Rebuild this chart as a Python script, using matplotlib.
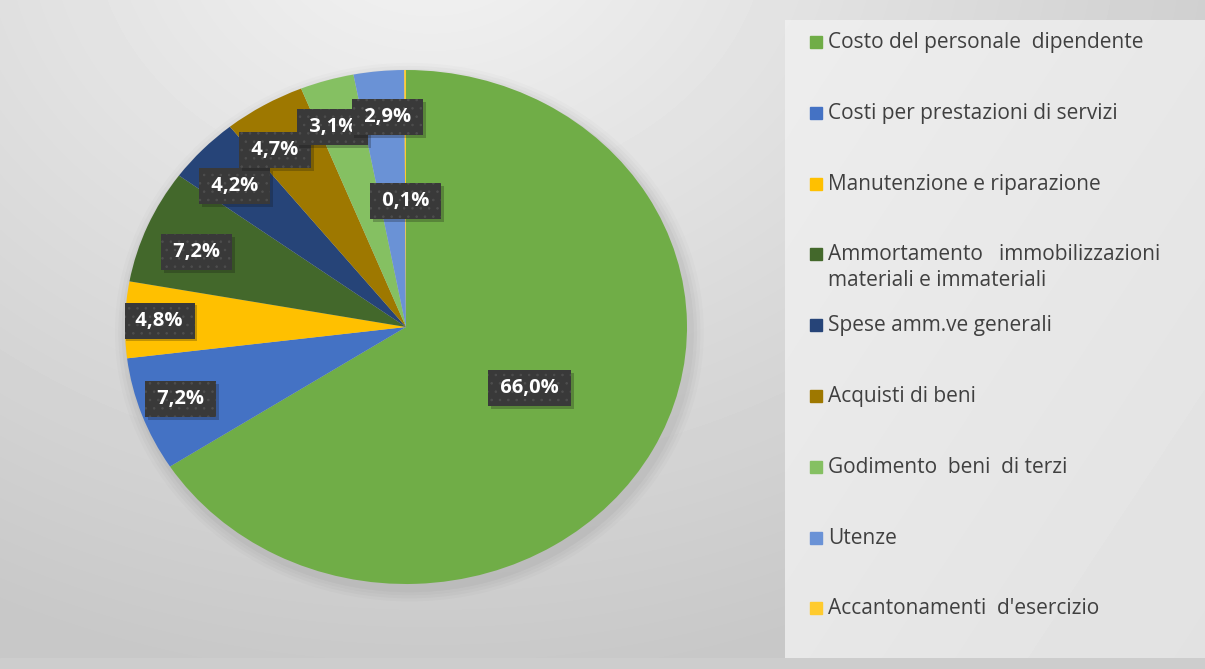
import numpy as np
import matplotlib
matplotlib.use("Agg")
import matplotlib.pyplot as plt
import matplotlib.patheffects as pe
from matplotlib.patches import Rectangle, Ellipse

# === Data ===
categories = [
    "Costo del personale  dipendente",
    "Costi per prestazioni di servizi",
    "Manutenzione e riparazione",
    "Ammortamento   immobilizzazioni\nmateriali e immateriali",
    "Spese amm.ve generali",
    "Acquisti di beni",
    "Godimento  beni  di terzi",
    "Utenze",
    "Accantonamenti  d'esercizio",
]
values = [66.0, 7.2, 4.8, 7.2, 4.2, 4.7, 3.1, 2.9, 0.1]
pct_labels = ["66,0%", "7,2%", "4,8%", "7,2%", "4,2%", "4,7%", "3,1%", "2,9%", "0,1%"]
colors = ["#70AD47", "#4472C4", "#FFC000", "#43682B", "#264478",
          "#9E7800", "#85C062", "#6A92D6", "#FFCB2E"]

# label placement, Excel "best fit": radius fraction and angle nudge (deg)
label_r = [0.50, 0.85, 0.88, 0.80, 0.82, 0.83, 0.82, 0.82, 0.49]
label_dang = [0, -0.7, 0, 1.8, 1.7, 3.8, 2.3, -0.9, 0]

W, H = 1205, 669
FONT = "Open Sans"
plt.rcParams["hatch.linewidth"] = 0.6

fig = plt.figure(figsize=(W / 100, H / 100), dpi=100)

# === Background (grey gradient) ===
bg = fig.add_axes([0, 0, 1, 1])
bg.axis("off")
yy, xx = np.mgrid[0:H, 0:W]
d = np.hypot(xx - 430, (yy + 80) * 1.25)
grad = 0.955 - 0.17 * np.clip(d / 950, 0, 1)
bg.imshow(grad, cmap="gray", vmin=0, vmax=1, extent=[0, W, H, 0], aspect="auto", zorder=0)
bg.add_patch(Rectangle((0, 658), W, 12, color="#cdcdcd", zorder=1))

# legend panel
py, px = np.mgrid[0:638, 0:420]
panel = 0.93 - 0.045 * (px / 420 + py / 638) / 2
bg.imshow(panel, cmap="gray", vmin=0, vmax=1, extent=[785, W, 658, 20], aspect="auto", zorder=1)
bg.set_xlim(0, W)
bg.set_ylim(H, 0)

# === Pie ===
cx, cy, rx, ry = 406, 327, 281, 257
ax = fig.add_axes([(cx - rx) / W, (H - cy - ry) / H, 2 * rx / W, 2 * ry / H])
for k, a in enumerate([0.03, 0.025, 0.02, 0.015]):
    s = 1.0 + 0.012 * (k + 1)
    ax.add_patch(Ellipse((0.012, -0.02), 2 * s, 2 * s, color="black", alpha=a,
                         lw=0, zorder=0, clip_on=False))
wedges, _ = ax.pie(values, colors=colors, startangle=90, counterclock=False,
                   radius=1, wedgeprops=dict(linewidth=0, clip_on=False))
ax.set_aspect("auto")
ax.set_xlim(-1, 1)
ax.set_ylim(-1, 1)
ax.axis("off")

texts = []
for k, (w, lab, r, da) in enumerate(zip(wedges, pct_labels, label_r, label_dang)):
    ang = np.deg2rad((w.theta1 + w.theta2) / 2 + da)
    t = ax.text(r * np.cos(ang), r * np.sin(ang), f" {lab} ", ha="center", va="center",
                fontsize=14.5, fontweight="bold", family=FONT, color="white",
                zorder=5 + k + 0.6)
    texts.append(t)

# dark label boxes with a dotted texture and soft shadow
fig.canvas.draw()
pad_x, box_h = 7, 36
for k, t in enumerate(texts):
    bb = t.get_window_extent()
    yc = (bb.y0 + bb.y1) / 2
    box = (bb.x0 - pad_x, yc - box_h / 2)
    bw = bb.width + 2 * pad_x
    fill = Rectangle(box, bw, box_h, transform=None, fc="#393939", ec="none", zorder=5 + k)
    fill.set_path_effects([pe.SimplePatchShadow(offset=(2, -2), alpha=0.25), pe.Normal()])
    ax.add_artist(fill)
    ax.add_artist(Rectangle(box, bw, box_h, transform=None, fc="none", ec="#4e4e4e",
                            lw=0, hatch="..", zorder=5 + k + 0.3))

# === Legend ===
for i, (lab, c) in enumerate(zip(categories, colors)):
    y = 42 + i * 70.8
    bg.add_patch(Rectangle((810, y - 6), 12, 12, color=c, zorder=3))
    bg.text(828, y - 10, lab, va="top", ha="left", fontsize=15, family=FONT,
            color="#404040", linespacing=1.3, zorder=3)

fig.savefig("out.png", dpi=100)
